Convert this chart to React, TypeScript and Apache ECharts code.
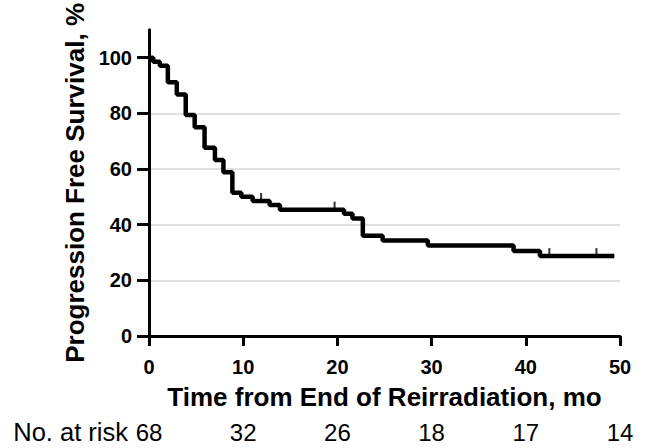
import React, { useEffect, useRef } from "react";
import * as echarts from "echarts";

const times = [0, 0.45, 1.15, 2.0, 2.95, 3.9, 4.85, 5.9, 7.0, 7.9, 8.85, 9.8, 11.0, 12.8, 13.9, 20.7, 21.6, 22.7, 24.8, 29.6, 38.7, 41.5, 49.4];
const survival = [100, 98.5, 97.1, 91.2, 86.8, 79.4, 75.0, 67.6, 63.2, 58.8, 51.5, 50.0, 48.5, 47.1, 45.4, 43.9, 42.2, 36.0, 34.3, 32.5, 30.5, 28.7, 28.7];
const censorTimes = [11.9, 19.7, 42.5, 47.5];
const censorSurvival = [48.5, 45.4, 28.7, 28.7];
const xTicks = [0, 10, 20, 30, 40, 50];
const yTicks = [0, 20, 40, 60, 80, 100];
const atRisk = [68, 32, 26, 18, 17, 14];
const atRiskLabel = "No. at risk";

const FONT = "'Liberation Sans', Arial, Helvetica, sans-serif";

export default function App() {
  const ref = useRef<HTMLDivElement>(null);
  useEffect(() => {
    if (!ref.current) return;
    const chart = echarts.init(ref.current, undefined, { renderer: "svg" });
    const curve = times.map((t, i) => [t, survival[i]]);
    const censors = censorTimes.map((t, i) => [t, censorSurvival[i]]);
    chart.setOption({
      animation: false,
      backgroundColor: "#ffffff",
      textStyle: { fontFamily: FONT },
      grid: { left: 149, right: 26, top: 26, bottom: 112 },
      graphic: [
        {
          type: "text",
          x: 128,
          y: 419,
          style: {
            text: atRiskLabel,
            align: "right",
            verticalAlign: "top",
            fontSize: 25.5,
            fontFamily: FONT,
            fill: "#000",
          },
        },
      ],
      xAxis: [
        {
          type: "value",
          min: 0,
          max: 50,
          interval: 10,
          position: "bottom",
          name: "Time from End of Reirradiation, mo",
          nameLocation: "middle",
          nameGap: 48,
          nameTextStyle: { fontSize: 26, fontWeight: "bold", color: "#000", fontFamily: FONT },
          axisLine: { show: true, onZero: false, lineStyle: { color: "#000", width: 3 } },
          axisTick: { show: true, length: 10, lineStyle: { color: "#000", width: 3 }, customValues: xTicks },
          axisLabel: { fontSize: 20, fontWeight: "bold", color: "#000", margin: 21, fontFamily: FONT, customValues: xTicks },
          splitLine: { show: false },
        },
        {
          type: "value",
          min: 0,
          max: 50,
          interval: 10,
          position: "bottom",
          offset: 84,
          axisLine: { show: false },
          axisTick: { show: false },
          axisLabel: {
            fontSize: 24,
            color: "#000",
            margin: 0,
            fontFamily: FONT,
            customValues: xTicks,
            formatter: (v: number) => String(atRisk[Math.round(v / 10)]),
          },
          splitLine: { show: false },
        },
      ],
      yAxis: {
        type: "value",
        min: 0,
        max: 110,
        interval: 20,
        name: "Progression Free Survival, %",
        nameLocation: "middle",
        nameGap: 56,
        nameTextStyle: { fontSize: 26, fontWeight: "bold", color: "#000", fontFamily: FONT },
        axisLine: { show: true, lineStyle: { color: "#000", width: 3 } },
        axisTick: { show: true, length: 12, lineStyle: { color: "#000", width: 3 }, customValues: yTicks },
        axisLabel: { fontSize: 20, fontWeight: "bold", color: "#000", margin: 17, fontFamily: FONT, customValues: yTicks },
        splitLine: { show: true, showMinLine: false, showMaxLine: false, lineStyle: { color: "#d6d6d6", width: 1.5 } },
      },
      series: [
        {
          type: "line",
          step: "end",
          data: curve,
          xAxisIndex: 0,
          showSymbol: false,
          lineStyle: { color: "#000", width: 4.5 },
          z: 3,
        },
        {
          type: "scatter",
          data: censors,
          xAxisIndex: 0,
          symbol: "rect",
          symbolSize: [2, 8],
          symbolOffset: [0, -4],
          itemStyle: { color: "#000" },
          z: 4,
        },
      ],
    });
    return () => chart.dispose();
  }, []);
  return <div ref={ref} style={{ position: "fixed", left: 0, top: 0, width: 646, height: 448 }} />;
}
